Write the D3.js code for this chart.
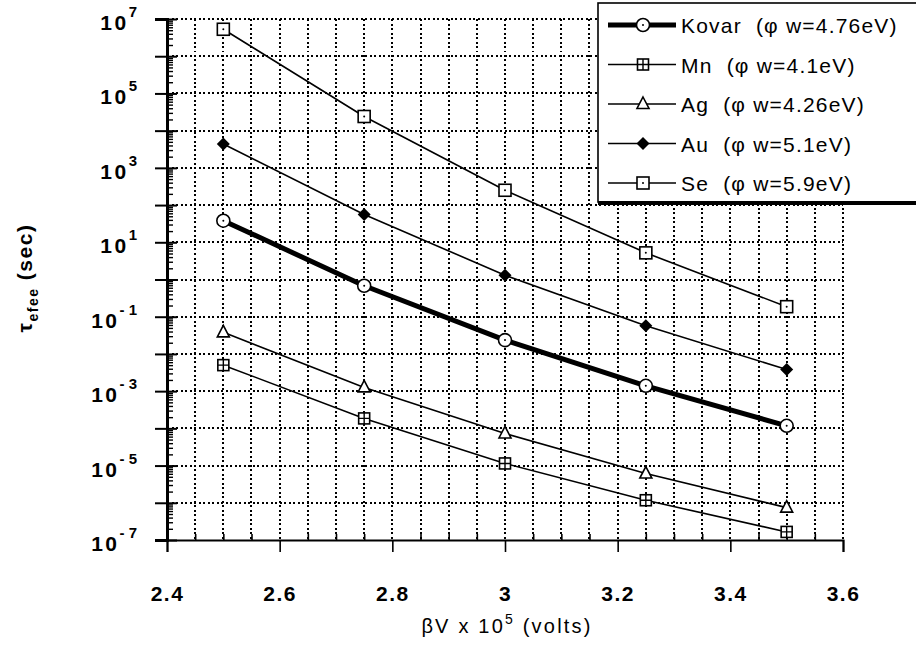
<!DOCTYPE html>
<html>
<head>
<meta charset="utf-8">
<script src="https://cdn.jsdelivr.net/npm/d3@7"></script>
<style>
  html, body { margin: 0; padding: 0; background: #fff; }
  svg { display: block; font-family: "Liberation Sans", Arial, sans-serif; }
</style>
</head>
<body>
<svg id="chart" width="916" height="646"></svg>
<script>
// Applied voltage (βV x 10^5, volts) at which each emitter was evaluated
const voltages = [2.5, 2.75, 3.0, 3.25, 3.5];

// Effective emission time constants (sec) per electrode material
const kovar = [38, 0.68, 0.0235, 1.39e-3, 1.17e-4];
const mn    = [5.0e-3, 1.85e-4, 1.14e-5, 1.17e-6, 1.65e-7];
const ag    = [0.038, 1.26e-3, 7.3e-5, 6.1e-6, 7.4e-7];
const au    = [4.4e3, 56, 1.3, 0.057, 3.8e-3];
const se    = [5.3e6, 2.4e4, 250, 5.2, 0.186];

const seriesNames  = ["Kovar", "Mn", "Ag", "Au", "Se"];
const workFunction = ["4.76", "4.1", "4.26", "5.1", "5.9"];

// Axis ticks
const xTickValues = [2.4, 2.6, 2.8, 3.0, 3.2, 3.4, 3.6];
const xGridValues = d3.range(49, 73).map(d => d / 20);   // every 0.05 V
const yExponents  = d3.range(-7, 8);                      // decades 1e-7 .. 1e7
const yLabelExps  = [7, 5, 3, 1, -1, -3, -5, -7];

const series = [
  { name: seriesNames[0], wf: workFunction[0], values: kovar, marker: "circle",   width: 5   },
  { name: seriesNames[1], wf: workFunction[1], values: mn,    marker: "boxcross", width: 1.6 },
  { name: seriesNames[2], wf: workFunction[2], values: ag,    marker: "triangle", width: 1.6 },
  { name: seriesNames[3], wf: workFunction[3], values: au,    marker: "diamond",  width: 1.6 },
  { name: seriesNames[4], wf: workFunction[4], values: se,    marker: "boxdot",   width: 1.6 }
];

const svg = d3.select("#chart");
const margin = { left: 167, right: 73, top: 19, bottom: 106 };
const W = 916, H = 646;
const x = d3.scaleLinear().domain([2.4, 3.6]).range([margin.left, W - margin.right]);
const y = d3.scaleLog().domain([1e-7, 1e7]).range([H - margin.bottom, margin.top]);

const dotted = "2,2.5";

// Dotted grid
const grid = svg.append("g").attr("shape-rendering", "crispEdges");
grid.selectAll("line.h").data(yExponents.filter(e => e > -7)).join("line")
  .attr("x1", x(2.4)).attr("x2", x(3.6))
  .attr("y1", e => Math.round(y(Math.pow(10, e)))).attr("y2", e => Math.round(y(Math.pow(10, e))))
  .attr("stroke", "#000").attr("stroke-width", 2).attr("stroke-dasharray", dotted);
grid.selectAll("line.v").data(xGridValues).join("line")
  .attr("x1", d => Math.round(x(d))).attr("x2", d => Math.round(x(d)))
  .attr("y1", y(1e7)).attr("y2", y(1e-7))
  .attr("stroke", "#000").attr("stroke-width", 2).attr("stroke-dasharray", dotted);

// X axis: major ticks below, minor ticks inward
const xAxis = svg.append("g").attr("transform", `translate(0,${y(1e-7)})`)
  .call(d3.axisBottom(x).tickValues(xTickValues).tickSize(12).tickPadding(34)
    .tickFormat(d3.format("")));
xAxis.select(".domain").attr("stroke-width", 2);
xAxis.selectAll(".tick line").attr("stroke-width", 1.6);
xAxis.selectAll(".tick text")
  .attr("font-size", 21).attr("font-weight", "bold").attr("fill", "#000")
  .attr("letter-spacing", 1.5)
  .attr("font-family", "Liberation Sans, Arial, sans-serif");
svg.append("g").attr("transform", `translate(0,${y(1e-7)})`)
  .call(d3.axisTop(x).tickValues(xGridValues.filter(d => Math.abs(d * 5 - Math.round(d * 5)) > 1e-6)).tickSize(6).tickFormat(""))
  .call(g => g.select(".domain").remove())
  .selectAll(".tick line").attr("stroke-width", 1.6);

// Y axis: decade ticks crossing the axis, log minor ticks inward
const majorVals = yExponents.map(e => Math.pow(10, e));
const minorVals = [];
yExponents.slice(0, -1).forEach(e => { for (let k = 2; k <= 9; k++) minorVals.push(k * Math.pow(10, e)); });

const yAxisOut = svg.append("g").attr("transform", `translate(${x(2.4)},0)`)
  .call(d3.axisLeft(y).tickValues(majorVals).tickSize(12).tickFormat(""));
yAxisOut.select(".domain").attr("stroke-width", 3);
yAxisOut.selectAll(".tick line").attr("stroke-width", 2);
svg.append("g").attr("transform", `translate(${x(2.4)},0)`)
  .call(d3.axisRight(y).tickValues(majorVals).tickSize(10).tickFormat(""))
  .call(g => g.select(".domain").remove())
  .selectAll(".tick line").attr("stroke-width", 2);
svg.append("g").attr("transform", `translate(${x(2.4)},0)`)
  .call(d3.axisRight(y).tickValues(minorVals).tickSize(6).tickFormat(""))
  .call(g => g.select(".domain").remove())
  .selectAll(".tick line").attr("stroke-width", 1.4);

// Y tick labels: 10 with superscripted exponent
const yLab = svg.append("g").attr("font-size", 21).attr("font-weight", "bold");
yLabelExps.forEach(e => {
  const t = yLab.append("text")
    .attr("x", 137).attr("y", y(Math.pow(10, e)) + 11)
    .attr("text-anchor", "end");
  t.append("tspan").text("10").attr("letter-spacing", 2.5);
  t.append("tspan").attr("font-size", 15).attr("dy", -13)
    .text(e < 0 ? "- " + Math.abs(e) : String(e));
});

// Axis titles
const xt = svg.append("text").attr("x", x(3.0) + 2).attr("y", 633)
  .attr("text-anchor", "middle").attr("font-size", 20).attr("letter-spacing", 2.2);
xt.append("tspan").text("βV x 10");
xt.append("tspan").attr("font-size", 14).attr("dy", -9).text("5");
xt.append("tspan").attr("dy", 9).text(" (volts)");

const yt = svg.append("text").attr("transform", "translate(32,278) rotate(-90)")
  .attr("text-anchor", "middle").attr("font-size", 21).attr("font-weight", "bold")
  .attr("letter-spacing", 1.5);
yt.append("tspan").text("τ");
yt.append("tspan").attr("font-size", 14).attr("dy", 6).text("efee");
yt.append("tspan").attr("dy", -6).text(" (sec)");

// Marker drawing
function drawMarker(g, type, cx, cy) {
  const s = g.append("g").attr("transform", `translate(${cx},${cy})`);
  if (type === "circle") {
    s.append("circle").attr("r", 6.5).attr("fill", "#fff").attr("stroke", "#000").attr("stroke-width", 1.6);
    s.append("circle").attr("r", 1).attr("fill", "#000");
  } else if (type === "boxcross") {
    s.append("rect").attr("x", -5.5).attr("y", -5.5).attr("width", 11).attr("height", 11)
      .attr("fill", "#fff").attr("stroke", "#000").attr("stroke-width", 1.6);
    s.append("path").attr("d", "M-5.5,0H5.5M0,-5.5V5.5").attr("stroke", "#000").attr("stroke-width", 1.4);
  } else if (type === "triangle") {
    s.append("path").attr("d", "M0,-7L6,4.5H-6Z").attr("fill", "#fff").attr("stroke", "#000").attr("stroke-width", 1.6);
  } else if (type === "diamond") {
    s.append("path").attr("d", "M0,-6.5L6.5,0L0,6.5L-6.5,0Z").attr("fill", "#000");
  } else if (type === "boxdot") {
    s.append("rect").attr("x", -6).attr("y", -6).attr("width", 12).attr("height", 12)
      .attr("fill", "#fff").attr("stroke", "#000").attr("stroke-width", 1.6);
    s.append("circle").attr("r", 1).attr("fill", "#000");
  }
}

// Series lines and markers
const line = d3.line().x(d => x(d[0])).y(d => y(d[1]));
const plot = svg.append("g");
series.forEach(s => {
  const pts = voltages.map((v, i) => [v, s.values[i]]);
  plot.append("path").attr("d", line(pts)).attr("fill", "none")
    .attr("stroke", "#000").attr("stroke-width", s.width).attr("stroke-linejoin", "round");
});
series.forEach(s => {
  voltages.forEach((v, i) => drawMarker(plot, s.marker, x(v), y(s.values[i])));
});

// Legend
const leg = svg.append("g");
leg.append("rect").attr("x", 598).attr("y", 3).attr("width", 340).attr("height", 199)
  .attr("fill", "#fff").attr("stroke", "#000").attr("stroke-width", 1.6);
leg.append("line").attr("x1", 598).attr("x2", 916).attr("y1", 203).attr("y2", 203)
  .attr("stroke", "#000").attr("stroke-width", 4);
series.forEach((s, i) => {
  const cy = 25 + i * 39.5;
  leg.append("line").attr("x1", 608).attr("x2", 676).attr("y1", cy).attr("y2", cy)
    .attr("stroke", "#000").attr("stroke-width", s.width);
  drawMarker(leg, s.marker, 643, cy);
  leg.append("text").attr("x", 681).attr("y", cy + 8).attr("font-size", 21)
    .attr("letter-spacing", 1.2)
    .attr("xml:space", "preserve")
    .text(`${s.name}  (φ w=${s.wf}eV)`);
});
</script>
</body>
</html>
